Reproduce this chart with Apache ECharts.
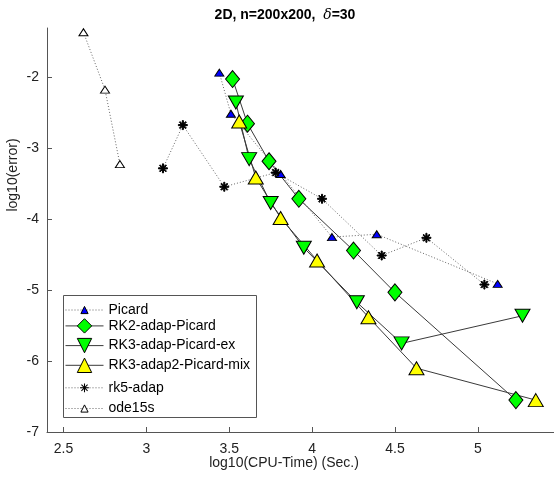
<!DOCTYPE html>
<html>
<head>
<meta charset="utf-8">
<script src="https://cdn.jsdelivr.net/npm/echarts@6/dist/echarts.min.js"></script>
<style>
    html, body { margin: 0; padding: 0; background: #fff; }
    #chart { width: 554px; height: 483px; }
</style>
</head>
<body>
<div id="chart"></div>
<script>
// values (log10 cpu time, log10 error)
const picardX = [3.44, 3.51, 3.81, 4.12, 4.39, 5.12];
const picardY = [-1.93, -2.51, -3.36, -4.25, -4.21, -4.91];

const rk2X = [3.52, 3.61, 3.74, 3.92, 4.25, 4.50, 5.23];
const rk2Y = [-2.02, -2.65, -3.18, -3.71, -4.44, -5.03, -6.55];

const rk3exX = [3.54, 3.62, 3.75, 3.95, 4.27, 4.54, 5.27];
const rk3exY = [-2.35, -3.15, -3.77, -4.40, -5.17, -5.75, -5.36];

const rk3mixX = [3.56, 3.66, 3.81, 4.03, 4.34, 4.63, 5.35];
const rk3mixY = [-2.62, -3.41, -3.98, -4.58, -5.38, -6.10, -6.55];

const rk5X = [3.10, 3.22, 3.47, 3.78, 4.06, 4.42, 4.69, 5.04];
const rk5Y = [-3.28, -2.67, -3.54, -3.34, -3.71, -4.51, -4.26, -4.92];

const odeX = [2.62, 2.75, 2.84];
const odeY = [-1.36, -2.17, -3.22];

const xTicks = [2.5, 3, 3.5, 4, 4.5, 5];
const yTicks = [-7, -6, -5, -4, -3, -2];

const FONT = "'Liberation Sans', Arial, sans-serif";
const asterisk = 'path://M4.4,0 L5.6,0 L5.6,10 L4.4,10 Z M0,4.4 L10,4.4 L10,5.6 L0,5.6 Z ' +
    'M1.1,1.9 L1.9,1.1 L8.9,8.1 L8.1,8.9 Z M8.1,1.1 L8.9,1.9 L1.9,8.9 L1.1,8.1 Z';

function pairs(xs, ys) {
    return xs.map((x, i) => [x, ys[i]]);
}

function makeSeries(name, xs, ys, symbol, size, fill, dotted, rotate) {
    return {
        name: name,
        type: 'line',
        data: pairs(xs, ys),
        symbol: symbol,
        symbolSize: size,
        symbolRotate: rotate || 0,
        showAllSymbol: true,
        animation: false,
        itemStyle: { color: fill, borderColor: '#000', borderWidth: 1, opacity: 1 },
        lineStyle: dotted
            ? { color: '#666', width: 1, type: [1, 2] }
            : { color: '#3a3a3a', width: 1, type: 'solid' },
        emphasis: { disabled: true }
    };
}

const series = [
    makeSeries('Picard', picardX, picardY, 'triangle', [9, 7], '#0000ff', true),
    makeSeries('RK2-adap-Picard', rk2X, rk2Y, 'diamond', [14, 17], '#00ff00', false),
    makeSeries('RK3-adap-Picard-ex', rk3exX, rk3exY, 'triangle', [15, 13], '#00ff00', false, 180),
    makeSeries('RK3-adap2-Picard-mix', rk3mixX, rk3mixY, 'triangle', [15, 13], '#ffff00', false),
    makeSeries('rk5-adap', rk5X, rk5Y, asterisk, [9, 9], '#000', true),
    makeSeries('ode15s', odeX, odeY, 'triangle', [9, 7], '#fff', true)
];

// one legend per row so each icon keeps its own size
const legendSizes = [9, 18, 18, 18, 11, 9];
const legends = series.map((s, i) => {
    const rowY = 307.5 + i * 19.7;
    return {
        data: [s.name],
        left: 65,
        top: rowY - legendSizes[i] / 2,
        padding: 0,
        itemWidth: 38,
        itemHeight: legendSizes[i],
        selectedMode: false,
        lineStyle: { width: 1 },
        itemStyle: i === 4
            ? { borderWidth: 0 }
            : { borderColor: '#000', borderWidth: 1 },
        textStyle: { fontSize: 14, fontFamily: FONT, color: '#000' }
    };
});

const axisCommon = {
    type: 'value',
    axisLine: { show: true, lineStyle: { color: '#555', width: 1 } },
    axisTick: { show: true, inside: true, length: 5, lineStyle: { color: '#555' } },
    splitLine: { show: false },
    axisLabel: { fontSize: 14, fontFamily: FONT, color: '#222' }
};

const chart = echarts.init(document.getElementById('chart'));
chart.setOption({
    animation: false,
    backgroundColor: '#fff',
    grid: { left: 47, right: 0, top: 28, bottom: 51 },
    xAxis: Object.assign({}, axisCommon, {
        min: 2.4, max: 5.46,
        axisTick: Object.assign({}, axisCommon.axisTick, { customValues: xTicks }),
        axisLabel: Object.assign({}, axisCommon.axisLabel, { customValues: xTicks, margin: 10 })
    }),
    yAxis: Object.assign({}, axisCommon, {
        min: -7, max: -1.3,
        axisTick: Object.assign({}, axisCommon.axisTick, { customValues: yTicks }),
        axisLabel: Object.assign({}, axisCommon.axisLabel, { customValues: yTicks, margin: 8 })
    }),
    legend: legends,
    graphic: [
        {
            type: 'rect', left: 63, top: 295, z: -1,
            shape: { width: 193, height: 122 },
            style: { fill: '#fff', stroke: '#555', lineWidth: 1 },
            silent: true
        },
        {
            type: 'text', x: 285, y: 15, silent: true,
            style: {
                text: '{b|2D, n=200x200,  }{d|δ}{b|=30}',
                align: 'center', verticalAlign: 'middle',
                rich: {
                    b: { fontSize: 14, fontWeight: 'bold', fontFamily: FONT, fill: '#000' },
                    d: { fontSize: 14, fontStyle: 'italic', fontFamily: "'DejaVu Serif', serif", fill: '#000' }
                }
            }
        },
        {
            type: 'text', x: 284, y: 463, silent: true,
            style: {
                text: 'log10(CPU-Time) (Sec.)', align: 'center', verticalAlign: 'middle',
                fontSize: 14, fontFamily: FONT, fill: '#222'
            }
        },
        {
            type: 'text', x: 13, y: 175, rotation: Math.PI / 2, silent: true,
            style: {
                text: 'log10(error)', align: 'center', verticalAlign: 'middle',
                fontSize: 14, fontFamily: FONT, fill: '#222'
            }
        }
    ],
    series: series
});
</script>
</body>
</html>
